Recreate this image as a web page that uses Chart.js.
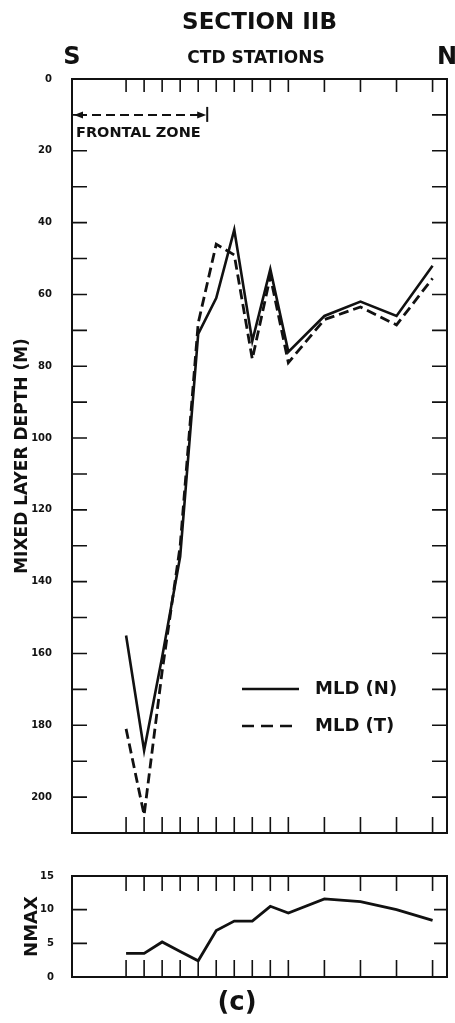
<!DOCTYPE html>
<html>
<head>
<meta charset="utf-8">
<script src="https://cdn.jsdelivr.net/npm/chart.js@4.4.1/dist/chart.umd.min.js"></script>
<style>
    html, body { margin: 0; padding: 0; background: #fff; }
    #contenedor { position: relative; width: 455px; height: 1023px; }
    canvas { position: absolute; left: 0; }
    #graficoProfundidad { top: 0; }
    #graficoNmax { top: 860px; }
</style>
</head>
<body>
<div id="contenedor">
    <canvas id="graficoProfundidad" width="455" height="860"></canvas>
    <canvas id="graficoNmax" width="455" height="163"></canvas>
</div>
<script>
// ===================================== Datos ==================
const estaciones = [3, 4, 5, 6, 7, 8, 9, 10, 11, 12, 14, 16, 18, 20];
const mldN = [155, 187, 161, 133, 71, 61, 42, 73, 53, 76, 66, 62, 66, 52];
const mldT = [181, 205, 165, 130, 68, 46, 49, 78, 55, 79, 67, 63.5, 68.5, 55.5];
const nmax = [3.5, 3.5, 5.2, 3.8, 2.4, 6.9, 8.3, 8.3, 10.5, 9.5, 11.6, 11.2, 10.0, 8.4];

const ticksProfundidad = [0, 20, 40, 60, 80, 100, 120, 140, 160, 180, 200];
const ticksNmax = [0, 5, 10, 15];
const zonaFrontal = [0, 7.5];      // desde S hasta el limite de la zona frontal
const profundidadFlecha = 10;
const ejeXMax = 20.8;

const NEGRO = "#111";
const FUENTE = "'DejaVu Sans', sans-serif";

function puntos(valores) {
    return estaciones.map((e, i) => ({ x: e, y: valores[i] }));
}


// ===================================== Marcas hacia adentro del marco ==================
function dibujarMarco(chart, largos, valoresY) {
    const { ctx, chartArea: a, scales: { x, y } } = chart;
    ctx.save();
    ctx.strokeStyle = NEGRO;
    ctx.lineWidth = 2;
    ctx.strokeRect(a.left, a.top, a.right - a.left, a.bottom - a.top);

    ctx.lineWidth = 1.6;
    ctx.beginPath();
    valoresY.forEach(v => {
        const py = y.getPixelForValue(v);
        ctx.moveTo(a.left, py); ctx.lineTo(a.left + largos.izq, py);
        ctx.moveTo(a.right, py); ctx.lineTo(a.right - largos.der, py);
    });
    estaciones.forEach(e => {
        const px = x.getPixelForValue(e);
        ctx.moveTo(px, a.top); ctx.lineTo(px, a.top + largos.arriba);
        ctx.moveTo(px, a.bottom); ctx.lineTo(px, a.bottom - largos.abajo);
    });
    ctx.stroke();
    ctx.restore();
}

function flecha(ctx, xPunta, yPunta, dir) {
    ctx.beginPath();
    ctx.moveTo(xPunta, yPunta);
    ctx.lineTo(xPunta - dir * 9, yPunta - 3.5);
    ctx.lineTo(xPunta - dir * 9, yPunta + 3.5);
    ctx.closePath();
    ctx.fill();
}


// ===================================== Plugin grafico profundidad ==================
const pluginProfundidad = {
    id: 'pluginProfundidad',
    afterDraw(chart) {
        const { ctx, chartArea: a, scales: { x, y } } = chart;
        const menores = y.ticks.map(t => t.value).filter(v => v > 0 && v < y.max);
        dibujarMarco(chart, { izq: 15, der: 15, arriba: 13, abajo: 16 }, menores);

        ctx.save();
        ctx.fillStyle = NEGRO;
        ctx.strokeStyle = NEGRO;
        ctx.textBaseline = 'middle';

        // titulos
        ctx.textAlign = 'center';
        ctx.font = "bold 23px " + FUENTE;
        ctx.fillText('SECTION IIB', (a.left + a.right) / 2, 23);
        ctx.font = "bold 24px " + FUENTE;
        ctx.fillText('S', x.getPixelForValue(0), 58);
        ctx.fillText('N', x.getPixelForValue(ejeXMax), 58);
        ctx.font = "bold 17px " + FUENTE;
        ctx.fillText('CTD STATIONS', 256, 59);

        // zona frontal
        const yF = y.getPixelForValue(profundidadFlecha);
        const x0 = x.getPixelForValue(zonaFrontal[0]);
        const x1 = x.getPixelForValue(zonaFrontal[1]);
        ctx.lineWidth = 2;
        ctx.setLineDash([9, 5]);
        ctx.beginPath();
        ctx.moveTo(x0 + 6, yF); ctx.lineTo(x1 - 6, yF);
        ctx.stroke();
        ctx.setLineDash([]);
        flecha(ctx, x0 + 2, yF, -1);
        flecha(ctx, x1 - 1, yF, 1);
        ctx.beginPath();
        ctx.moveTo(x1, yF - 8); ctx.lineTo(x1, yF + 7);
        ctx.stroke();
        ctx.textAlign = 'left';
        ctx.font = "bold 14.5px " + FUENTE;
        ctx.fillText('FRONTAL ZONE', a.left + 4, yF + 18);

        // leyenda
        const yN = a.top + 610, yT = a.top + 647;
        ctx.lineWidth = 2.5;
        ctx.beginPath();
        ctx.moveTo(a.left + 170, yN); ctx.lineTo(a.left + 227, yN);
        ctx.stroke();
        ctx.setLineDash([12, 7]);
        ctx.beginPath();
        ctx.moveTo(a.left + 170, yT); ctx.lineTo(a.left + 227, yT);
        ctx.stroke();
        ctx.setLineDash([]);
        ctx.font = "bold 18px " + FUENTE;
        ctx.fillText('MLD (N)', a.left + 243, yN);
        ctx.fillText('MLD (T)', a.left + 243, yT);
        ctx.restore();
    }
};


// ===================================== Plugin grafico NMAX ==================
const pluginNmax = {
    id: 'pluginNmax',
    afterDraw(chart) {
        const { ctx } = chart;
        dibujarMarco(chart, { izq: 15, der: 13, arriba: 15, abajo: 17 }, [5, 10]);
        ctx.save();
        ctx.fillStyle = NEGRO;
        ctx.textAlign = 'center';
        ctx.textBaseline = 'middle';
        ctx.font = "bold 26px " + FUENTE;
        ctx.fillText('(c)', 237, 143);
        ctx.restore();
    }
};


// ===================================== Grafico Profundidad de capa de mezcla ==================
var chartProfundidad = new Chart(document.getElementById("graficoProfundidad"), {
    type: 'line',
    data: {
        datasets: [
            { label: 'MLD (N)', data: puntos(mldN), borderColor: NEGRO, borderWidth: 2.6, pointRadius: 0, tension: 0 },
            { label: 'MLD (T)', data: puntos(mldT), borderColor: NEGRO, borderWidth: 2.8, borderDash: [10, 5], pointRadius: 0, tension: 0 }
        ]
    },
    options: {
        responsive: false,
        animation: false,
        devicePixelRatio: 1,
        layout: { padding: { top: 79, left: 0, right: 8, bottom: 27 } },
        plugins: { legend: { display: false }, tooltip: { enabled: false } },
        scales: {
            x: { type: 'linear', min: 0, max: ejeXMax, display: false },
            y: {
                min: 0,
                max: 210,
                reverse: true,
                grid: { display: false },
                border: { display: false },
                afterFit(escala) { escala.width = 72; },
                ticks: {
                    stepSize: 10,
                    padding: 12,
                    color: NEGRO,
                    font: { family: FUENTE, size: 10, weight: 'bold' },
                    callback: v => ticksProfundidad.includes(v) ? v : ''
                },
                title: {
                    display: true,
                    text: 'MIXED LAYER DEPTH (M)',
                    color: NEGRO,
                    font: { family: FUENTE, size: 17, weight: 'bold' },
                    padding: { top: 12, bottom: 0 }
                }
            }
        }
    },
    plugins: [pluginProfundidad]
});


// ===================================== Grafico NMAX ==================
var chartNmax = new Chart(document.getElementById("graficoNmax"), {
    type: 'line',
    data: {
        datasets: [
            { label: 'NMAX', data: puntos(nmax), borderColor: NEGRO, borderWidth: 2.8, pointRadius: 0, tension: 0 }
        ]
    },
    options: {
        responsive: false,
        animation: false,
        devicePixelRatio: 1,
        layout: { padding: { top: 10, left: 0, right: 8, bottom: 46 } },
        plugins: { legend: { display: false }, tooltip: { enabled: false } },
        scales: {
            x: { type: 'linear', min: 0, max: ejeXMax, display: false },
            y: {
                min: 0,
                max: 15,
                grid: { display: false },
                border: { display: false },
                afterFit(escala) { escala.width = 72; },
                afterBuildTicks(escala) { escala.ticks = ticksNmax.map(v => ({ value: v })); },
                ticks: {
                    padding: 10,
                    color: NEGRO,
                    font: { family: FUENTE, size: 10, weight: 'bold' }
                },
                title: {
                    display: true,
                    text: 'NMAX',
                    color: NEGRO,
                    font: { family: FUENTE, size: 18, weight: 'bold' },
                    padding: { top: 22, bottom: 0 }
                }
            }
        }
    },
    plugins: [pluginNmax]
});
</script>
</body>
</html>
